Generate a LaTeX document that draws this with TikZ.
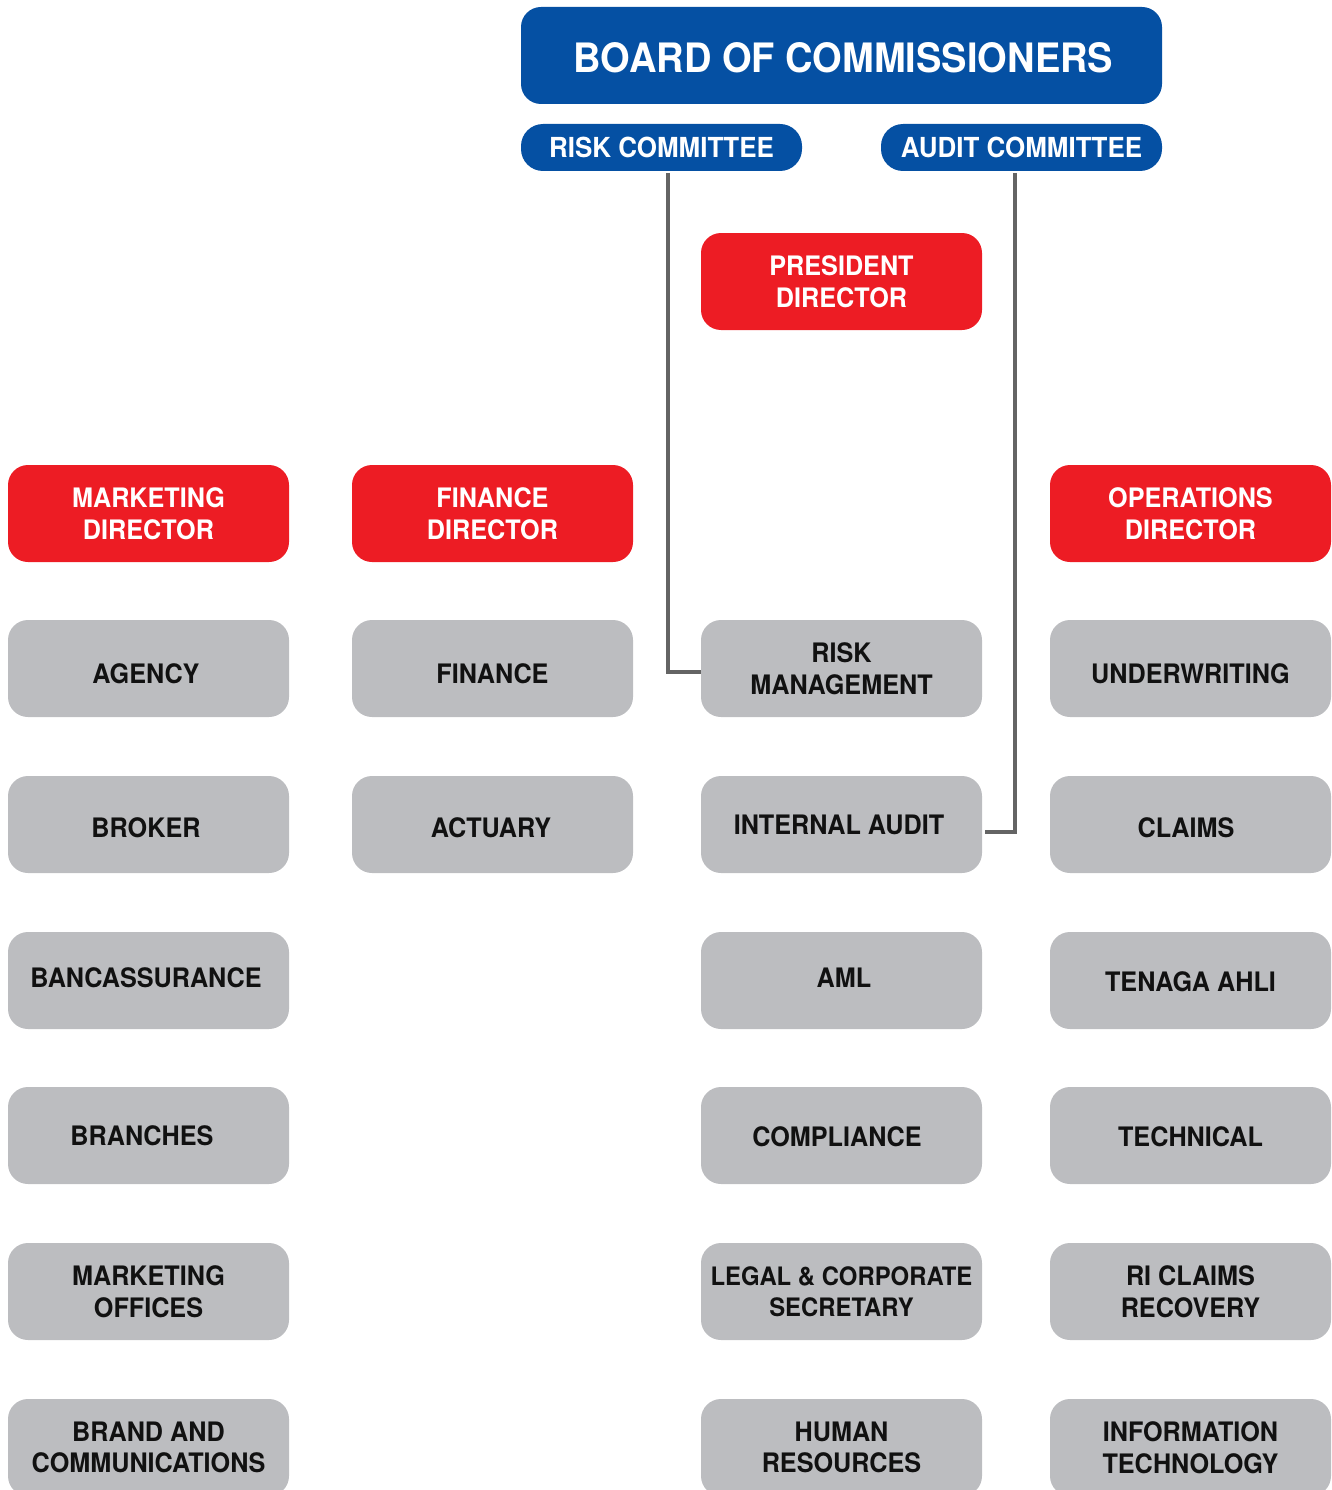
\documentclass[tikz,border=0pt]{standalone}
\usepackage{fontspec}
\setmainfont[FakeStretch=0.94]{TeX Gyre Heros}
\definecolor{bblue}{HTML}{0550A3}
\definecolor{rred}{HTML}{ED1C24}
\definecolor{ggray}{HTML}{BCBDC0}
\definecolor{lgray}{HTML}{646464}
\definecolor{ink}{HTML}{111111}
\tikzset{
  box/.style={rectangle, rounded corners=20pt, inner sep=0pt, minimum width=281pt, minimum height=97pt, align=center,
    font=\fontsize{26.8}{31.5}\selectfont\bfseries},
  bluebox/.style={box, fill=bblue, text=white},
  committee/.style={bluebox, rounded corners=22pt, minimum height=47pt, font=\fontsize{27.6}{31.5}\selectfont\bfseries, text height=21pt, text depth=0pt},
  redbox/.style={box, fill=rred, text=white},
  graybox/.style={box, fill=ggray, text=ink},
  off/.style={text height=#1, text depth=0pt},
  conn/.style={draw=lgray, line width=4pt}
}
\begin{document}
\begin{tikzpicture}[x=1pt,y=-1pt]
\useasboundingbox (0,0) rectangle (1332,1490);
\clip (0,0) rectangle (1332,1490);
% top
\node[bluebox, minimum width=641pt, font=\fontsize{40.5}{44}\selectfont\bfseries, text height=34pt, text depth=0pt] (board) at (841.5,55.5) {\kern4pt BOARD OF COMMISSIONERS};
\node[committee] (rc) at (661.5,147.5) {RISK COMMITTEE};
\node[committee] (ac) at (1021.5,147.5) {AUDIT COMMITTEE};
\node[redbox] (pd) at (841.5,281.5) {PRESIDENT\\DIRECTOR};
% directors
\node[redbox] (md) at (148.5,513.5) {MARKETING\\DIRECTOR};
\node[redbox] (fd) at (492.5,513.5) {FINANCE\\DIRECTOR};
\node[redbox] (od) at (1190.5,513.5) {OPERATIONS\\DIRECTOR};
% column 1
\node[graybox, off=30pt] (agency) at (148.5,668.5) {AGENCY\kern5pt};
\node[graybox, off=26pt] (broker) at (148.5,824.5) {BROKER\kern5pt};
\node[graybox, off=14pt] (banca) at (148.5,980.5) {BANCASSURANCE\kern5pt};
\node[graybox, off=19pt] (branches) at (148.5,1135.5) {BRANCHES\kern13pt};
\node[graybox] (mo) at (148.5,1291.5) {MARKETING\\OFFICES};
\node[graybox] (brand) at (148.5,1447.5) {BRAND AND\\COMMUNICATIONS};
% column 2
\node[graybox, off=30pt] (fin) at (492.5,668.5) {FINANCE};
\node[graybox, off=26pt] (act) at (492.5,824.5) {ACTUARY\kern3pt};
% column 3
\node[graybox] (rm) at (841.5,668.5) {RISK\\MANAGEMENT};
\node[graybox, off=19pt] (ia) at (841.5,824.5) {INTERNAL AUDIT\kern5pt};
\node[graybox, off=14pt] (aml) at (841.5,980.5) {\kern5pt AML};
\node[graybox, off=22pt] (comp) at (841.5,1135.5) {COMPLIANCE\kern9pt};
\node[graybox, font=\fontsize{25.4}{31.5}\selectfont\bfseries] (legal) at (841.5,1291.5) {LEGAL \& CORPORATE\\SECRETARY};
\node[graybox] (hr) at (841.5,1447.5) {HUMAN\\RESOURCES};
% column 4
\node[graybox, off=30pt] (uw) at (1190.5,668.5) {UNDERWRITING};
\node[graybox, off=26pt] (claims) at (1190.5,824.5) {CLAIMS\kern9pt};
\node[graybox, off=22pt] (ta) at (1190.5,980.5) {TENAGA AHLI};
\node[graybox, off=22pt] (tech) at (1190.5,1135.5) {TECHNICAL};
\node[graybox] (ri) at (1190.5,1291.5) {RI CLAIMS\\RECOVERY};
\node[graybox] (it) at (1190.5,1447.5) {INFORMATION\\TECHNOLOGY};
% connectors
\coordinate (rcx) at (668,173);
\coordinate (acx) at (1015,173);
\draw[conn] (rcx) |- ([yshift=-3.5pt]rm.west);
\draw[conn] (acx) |- ([yshift=-7.5pt,xshift=3pt]ia.east);
\end{tikzpicture}
\end{document}
